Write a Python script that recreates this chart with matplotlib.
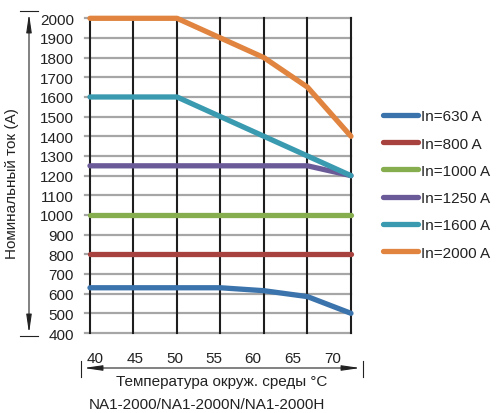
import matplotlib
matplotlib.use("Agg")
import matplotlib.pyplot as plt
from matplotlib.lines import Line2D
from matplotlib.patches import FancyArrowPatch

plt.rcParams['font.family'] = ['Liberation Sans', 'DejaVu Sans']

temps = [40, 45, 50, 55, 60, 65, 70]
tick_labels = ['40', '45', '50', '55', '60', '65', '70']
in630 = [630, 630, 630, 630, 615, 585, 500]
in800 = [800, 800, 800, 800, 800, 800, 800]
in1000 = [1000, 1000, 1000, 1000, 1000, 1000, 1000]
in1250 = [1250, 1250, 1250, 1250, 1250, 1250, 1200]
in1600 = [1600, 1600, 1600, 1500, 1400, 1300, 1200]
in2000 = [2000, 2000, 2000, 1900, 1800, 1650, 1400]
names = ['In=630 A', 'In=800 A', 'In=1000 A', 'In=1250 A', 'In=1600 A', 'In=2000 A']
series = [in630, in800, in1000, in1250, in1600, in2000]
colors = ['#3b73ac', '#a8423f', '#86ad4e', '#6b5a98', '#3a9bb0', '#e0843f']
yticks = list(range(400, 2001, 100))

txt = '#222222'
fs = 11

fig = plt.figure(figsize=(4.96, 4.14), dpi=100)
ax = fig.add_axes([85/496, 1-334/414, 266/496, 314.7/414])
ax.set_xlim(39.43, 70)
ax.set_ylim(400, 2000)
for s in ax.spines.values():
    s.set_visible(False)

# grid
for y in yticks:
    ax.axhline(y, color='#a6a6a6', lw=1.6, zorder=1, clip_on=False)
for t in temps:
    ax.plot([t, t], [400, 2000], color='#1e1e1e', lw=1.5, zorder=2, clip_on=False)

handles = []
for vals, c, n in zip(series, colors, names):
    ax.plot(temps, vals, color=c, lw=3.8, solid_capstyle='round',
            solid_joinstyle='round', zorder=3, clip_on=False)
    handles.append(Line2D([], [], color=c, lw=3.8, solid_capstyle='round', label=n))

ax.set_yticks(yticks)
ax.set_yticklabels([str(v) for v in yticks], fontsize=fs, color=txt)
ax.tick_params(axis='y', length=0, pad=8)
# x labels sit slightly off the vertical lines, as in the original
lbl_x = [40.6, 45.2, 49.75, 54.25, 58.75, 63.3, 67.9]
ax.set_xticks(lbl_x)
ax.set_xticklabels(tick_labels, fontsize=fs, color=txt)
ax.tick_params(axis='x', length=0, pad=13)

# dimension-style arrows
W, H = 496, 414
def fx(p): return p / W
def fy(p): return 1 - p / H

arr = FancyArrowPatch((fx(81), fy(369)), (fx(363), fy(369)), transform=fig.transFigure,
                      arrowstyle='<|-|>,head_length=1.1,head_width=0.16', mutation_scale=10,
                      color=txt, lw=0.8)
fig.add_artist(arr)
fig.add_artist(Line2D([fx(81), fx(81)], [fy(362), fy(378)], transform=fig.transFigure, color=txt, lw=0.8))
fig.add_artist(Line2D([fx(363), fx(363)], [fy(362), fy(378)], transform=fig.transFigure, color=txt, lw=0.8))

arr2 = FancyArrowPatch((fx(29), fy(337)), (fx(29), fy(12)), transform=fig.transFigure,
                       arrowstyle='<|-|>,head_length=1.1,head_width=0.16', mutation_scale=10,
                       color=txt, lw=0.8)
fig.add_artist(arr2)
fig.add_artist(Line2D([fx(20), fx(38)], [fy(12), fy(12)], transform=fig.transFigure, color=txt, lw=0.8))
fig.add_artist(Line2D([fx(20), fx(38)], [fy(337), fy(337)], transform=fig.transFigure, color=txt, lw=0.8))

fig.text(fx(12), fy(184), 'Номинальный ток (A)', rotation=90, ha='center', va='center',
         fontsize=fs, color=txt)
fig.text(fx(222), fy(382), 'Температура окруж. среды °C', ha='center', va='center',
         fontsize=fs, color=txt)
fig.text(fx(207), fy(405), 'NA1-2000/NA1-2000N/NA1-2000H', ha='center', va='center',
         fontsize=fs, color=txt)

fig.legend(handles=handles, loc='upper left', bbox_to_anchor=(fx(371), fy(98)),
           frameon=False, fontsize=fs, handlelength=2.3, handletextpad=0.2,
           labelspacing=0.87, labelcolor=txt, borderpad=0.3)

fig.savefig('out.png', dpi=100)
